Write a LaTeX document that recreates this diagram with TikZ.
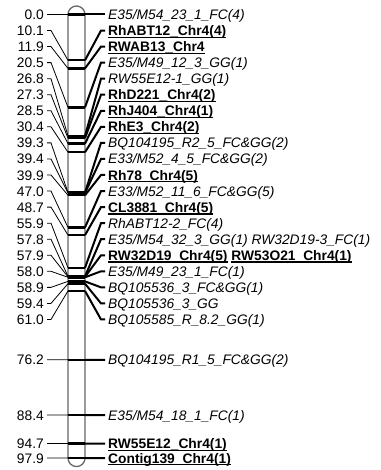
\documentclass[tikz,border=0pt]{standalone}
\usepackage{fontspec}
\setmainfont{Liberation Sans}
\usetikzlibrary{calc}
\newcommand{\itl}[1]{\textit{#1}}
\newcommand{\ulb}[1]{\setbox0=\hbox{\bfseries #1}\rlap{\rule[-2.4pt]{\wd0}{1.4pt}}\box0\relax}
\tikzset{
  mapfont/.style={font=\fontsize{13.8}{16}\selectfont},
  cmpos/.style={mapfont,inner sep=0pt,text height=10pt,text depth=0pt,anchor=east},
  mrk/.style={mapfont,inner sep=0pt,text height=10pt,text depth=0pt,anchor=west},
  chrom/.style={draw=black!60,line width=1.3pt},
  band/.style={line width=2.4pt},
  lft/.style={line width=.8pt},
  rgt/.style={line width=2pt},
}
\begin{document}
\begin{tikzpicture}[x=1pt,y=1pt]
\useasboundingbox (0,0) rectangle (380,-470);

% ---- chromosome bar -------------------------------------------------------
\draw[chrom] (68,-14.5) arc (180:0:8.5) -- (85,-458.08) arc (0:-180:8.5) -- cycle;

% ---- markers: position / label row / name ---------------------------------
\foreach \cm/\ly/\txt [count=\i] in {
  0.0/14.5/{\itl{E35/M54\_23\_1\_FC(4)}},
  10.1/30.55/{\ulb{RhABT12\_Chr4(4)}},
  11.9/46.6/{\ulb{RWAB13\_Chr4}},
  20.5/62.65/{\itl{E35/M49\_12\_3\_GG(1)}},
  26.8/78.7/{\itl{RW55E12-1\_GG(1)}},
  27.3/94.75/{\ulb{RhD221\_Chr4(2)}},
  28.5/110.8/{\ulb{RhJ404\_Chr4(1)}},
  30.4/126.85/{\ulb{RhE3\_Chr4(2)}},
  39.3/142.9/{\itl{BQ104195\_R2\_5\_FC\&GG(2)}},
  39.4/158.95/{\itl{E33/M52\_4\_5\_FC\&GG(2)}},
  39.9/175/{\ulb{Rh78\_Chr4(5)}},
  47.0/191.05/{\itl{E33/M52\_11\_6\_FC\&GG(5)}},
  48.7/207.1/{\ulb{CL3881\_Chr4(5)}},
  55.9/223.15/{\itl{RhABT12-2\_FC(4)}},
  57.8/239.2/{\itl{E35/M54\_32\_3\_GG(1) RW32D19-3\_FC(1)}},
  57.9/255.25/{\ulb{RW32D19\_Chr4(5)} \ulb{RW53O21\_Chr4(1)}},
  58.0/271.3/{\itl{E35/M49\_23\_1\_FC(1)}},
  58.9/287.35/{\itl{BQ105536\_3\_FC\&GG(1)}},
  59.4/303.4/{\itl{BQ105536\_3\_GG}},
  61.0/319.45/{\itl{BQ105585\_R\_8.2\_GG(1)}},
  76.2/359.76/{\itl{BQ104195\_R1\_5\_FC\&GG(2)}},
  88.4/415.04/{\itl{E35/M54\_18\_1\_FC(1)}},
  94.7/443.59/{\ulb{RW55E12\_Chr4(1)}},
  97.9/458.08/{\ulb{Contig139\_Chr4(1)}}}{
  \pgfmathsetmacro{\ym}{14.5+4.531*\cm}
  \node[cmpos] (p\i) at (44,-\ly) {\cm};
  \node[mrk] (m\i) at (108,-\ly) {\txt};
  \coordinate (cl\i) at (68,-\ym);
  \coordinate (cr\i) at (85,-\ym);
  \draw[lft] ([xshift=3pt]p\i.east) -- ++(4,0) -- (cl\i);
  \draw[band] (cl\i) -- (cr\i);
  \draw[rgt] (cr\i) -- ([xshift=-7pt]m\i.west) -- ([xshift=-3pt]m\i.west);
}
\end{tikzpicture}
\end{document}
